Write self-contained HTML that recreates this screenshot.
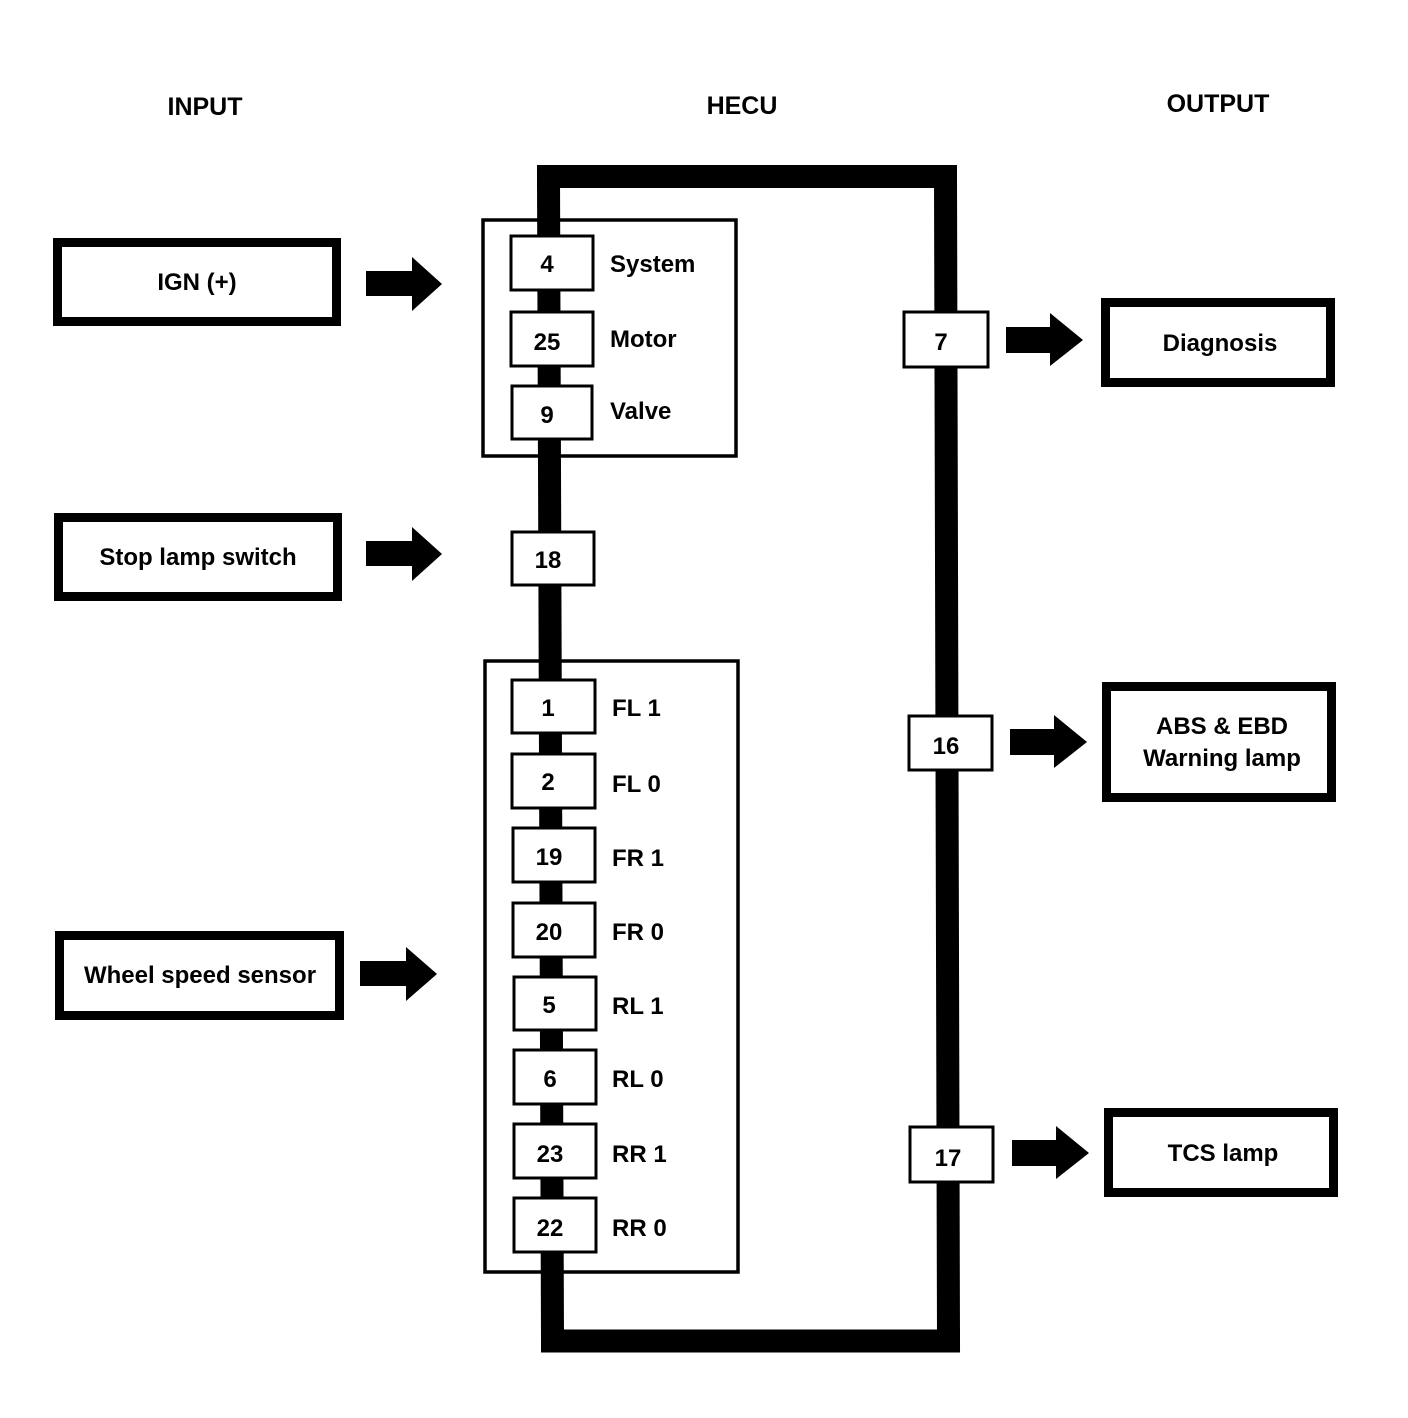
<!DOCTYPE html>
<html><head><meta charset="utf-8"><style>
html,body{margin:0;padding:0;background:#fff}
svg{display:block}
text{font-family:"Liberation Sans",Arial,sans-serif;font-weight:bold;fill:#000}
</style></head><body>
<svg width="1408" height="1418" viewBox="0 0 1408 1418" xmlns="http://www.w3.org/2000/svg">
<rect width="1408" height="1418" fill="#fff"/>
<!-- headers -->
<g font-size="25" text-anchor="middle">
<text x="205" y="115">INPUT</text>
<text x="742" y="114">HECU</text>
<text x="1218" y="112">OUTPUT</text>
</g>
<!-- bus -->
<g stroke="#000" stroke-width="23" fill="none" stroke-linecap="square">
<line x1="548.5" y1="176.5" x2="552.5" y2="1341"/>
<line x1="945.5" y1="176.5" x2="948.5" y2="1341"/>
<line x1="548.5" y1="176.5" x2="945.5" y2="176.5"/>
<line x1="552.5" y1="1341" x2="948.5" y2="1341"/>
</g>
<!-- containers -->
<g fill="#fff" stroke="#000" stroke-width="3.5">
<rect x="483" y="220" width="253" height="236" fill="none"/>
<rect x="485" y="661" width="253" height="611" fill="none"/>
</g>
<!-- redraw bus inside containers over container lines is fine; pins -->
<g fill="#fff" stroke="#000" stroke-width="3">
<rect x="511" y="236" width="82" height="54"/>
<rect x="511" y="312" width="82" height="54"/>
<rect x="512" y="386" width="80" height="53"/>
<rect x="512" y="532" width="82" height="53"/>
<rect x="512" y="680" width="83" height="53"/>
<rect x="512" y="754" width="83" height="54"/>
<rect x="513" y="828" width="82" height="54"/>
<rect x="513" y="903" width="82" height="54"/>
<rect x="514" y="977" width="82" height="53"/>
<rect x="514" y="1050" width="82" height="54"/>
<rect x="514" y="1124" width="82" height="54"/>
<rect x="514" y="1198" width="82" height="54"/>
<rect x="904" y="312" width="84" height="55"/>
<rect x="909" y="716" width="83" height="54"/>
<rect x="910" y="1127" width="83" height="55"/>
</g>
<g font-size="24" text-anchor="middle">
<text x="547" y="272">4</text>
<text x="547" y="350">25</text>
<text x="547" y="423">9</text>
<text x="548" y="568">18</text>
<text x="548" y="716">1</text>
<text x="548" y="790">2</text>
<text x="549" y="865">19</text>
<text x="549" y="940">20</text>
<text x="549" y="1013">5</text>
<text x="550" y="1087">6</text>
<text x="550" y="1162">23</text>
<text x="550" y="1236">22</text>
<text x="941" y="350">7</text>
<text x="946" y="754">16</text>
<text x="948" y="1166">17</text>
</g>
<g font-size="24">
<text x="610" y="272">System</text>
<text x="610" y="347">Motor</text>
<text x="610" y="419">Valve</text>
<text x="612" y="716">FL 1</text>
<text x="612" y="792">FL 0</text>
<text x="612" y="866">FR 1</text>
<text x="612" y="940">FR 0</text>
<text x="612" y="1014">RL 1</text>
<text x="612" y="1087">RL 0</text>
<text x="612" y="1162">RR 1</text>
<text x="612" y="1236">RR 0</text>
</g>
<!-- input/output boxes -->
<g fill="none" stroke="#000" stroke-width="9">
<rect x="57.5" y="242.5" width="279" height="79"/>
<rect x="58.5" y="517.5" width="279" height="79"/>
<rect x="59.5" y="935.5" width="280" height="80"/>
<rect x="1105.5" y="302.5" width="225" height="80"/>
<rect x="1106.5" y="686.5" width="225" height="111"/>
<rect x="1108.5" y="1112.5" width="225" height="80"/>
</g>
<g font-size="24" text-anchor="middle">
<text x="197" y="290">IGN (+)</text>
<text x="198" y="565">Stop lamp switch</text>
<text x="200" y="983">Wheel speed sensor</text>
<text x="1220" y="351">Diagnosis</text>
<text x="1222" y="734">ABS &amp; EBD</text>
<text x="1222" y="766">Warning lamp</text>
<text x="1223" y="1161">TCS lamp</text>
</g>
<!-- arrows -->
<g fill="#000">
<polygon points="366,271 412,271 412,257 442,284 412,311 412,296 366,296"/>
<polygon points="366,541 412,541 412,527 442,554 412,581 412,566 366,566"/>
<polygon points="360,961 406,961 406,947 437,974 406,1001 406,986 360,986"/>
<polygon points="1006,327 1050,327 1050,313 1083,340 1050,366 1050,353 1006,353"/>
<polygon points="1010,729 1054,729 1054,715 1087,742 1054,768 1054,755 1010,755"/>
<polygon points="1012,1140 1056,1140 1056,1126 1089,1153 1056,1179 1056,1166 1012,1166"/>
</g>
</svg>
</body></html>
